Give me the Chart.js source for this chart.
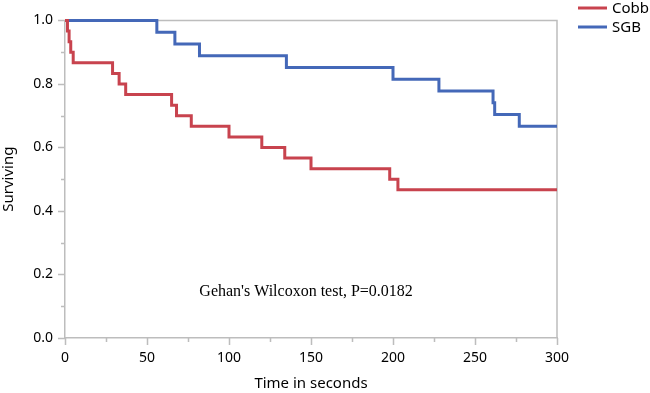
<!DOCTYPE html>
<html>
<head>
<meta charset="utf-8">
<script src="https://cdn.jsdelivr.net/npm/chart.js@4"></script>
<style>
  html, body { margin: 0; padding: 0; background: #ffffff; }
  #wrap { width: 650px; height: 393px; position: relative; }
</style>
</head>
<body>
<div id="wrap"><canvas id="kmChart"></canvas></div>
<script>
// Kaplan-Meier steps
var cobbTimes = [0, 1.5, 2.5, 3.5, 5, 29, 33, 37, 65, 68, 77, 100, 120, 134, 150, 198, 203, 300];
var cobbSurv  = [1, 0.967, 0.933, 0.9, 0.867, 0.833, 0.8, 0.767, 0.733, 0.7, 0.667, 0.633, 0.6, 0.567, 0.533, 0.5, 0.467, 0.467];
var sgbTimes  = [0, 56, 67, 82, 135, 200, 228, 261, 262, 277, 300];
var sgbSurv   = [1, 0.963, 0.926, 0.889, 0.852, 0.815, 0.778, 0.741, 0.704, 0.667, 0.667];
var groupNames  = ["Cobb", "SGB"];
var groupColors = ["#c8434e", "#4468b8"];
var xTicks = [0, 50, 100, 150, 200, 250, 300];
var yTicks = [0, 0.2, 0.4, 0.6, 0.8, 1.0];
var testNote = "Gehan's Wilcoxon test, P=0.0182";

var frameColor = "#bdbdbd";
var sansFont = "'Noto Sans', 'Open Sans', sans-serif";

function toPoints(xs, ys) {
    return xs.map(function (x, i) { return { x: x, y: ys[i] }; });
}

// plot frame under the curves, tick marks, note and legend on top
var decorPlugin = {
    id: "decor",
    beforeDatasetsDraw: function (chart) {
        var ctx = chart.ctx;
        var area = chart.chartArea;
        ctx.save();
        ctx.strokeStyle = frameColor;
        ctx.lineWidth = 1.5;
        ctx.beginPath();
        ctx.moveTo(area.left, area.top);
        ctx.lineTo(area.right, area.top);
        ctx.lineTo(area.right, area.bottom);
        ctx.stroke();
        ctx.restore();
    },
    afterDraw: function (chart) {
        var ctx = chart.ctx;
        var area = chart.chartArea;
        var xs = chart.scales.x, ys = chart.scales.y;
        ctx.save();
        ctx.strokeStyle = frameColor;
        ctx.lineWidth = 1.5;
        ctx.beginPath();
        for (var v = 0; v <= 300; v += 25) {
            var px = Math.round(xs.getPixelForValue(v)) + 0.5;
            var len = (v % 50 === 0) ? 7 : 4;
            ctx.moveTo(px, area.bottom);
            ctx.lineTo(px, area.bottom + len);
        }
        for (var k = 0; k <= 10; k++) {
            var py = Math.round(ys.getPixelForValue(k / 10)) + 0.5;
            var l = (k % 2 === 0) ? 7 : 4;
            ctx.moveTo(area.left, py);
            ctx.lineTo(area.left - l, py);
        }
        ctx.stroke();

        ctx.fillStyle = "#000000";
        ctx.font = "16px 'Liberation Serif', 'Times New Roman', serif";
        ctx.textAlign = "center";
        ctx.textBaseline = "middle";
        ctx.fillText(testNote, xs.getPixelForValue(147), ys.getPixelForValue(0.145));

        ctx.font = "15px " + sansFont;
        ctx.textAlign = "left";
        chart.data.datasets.forEach(function (ds, i) {
            var y = 8 + i * 19;
            ctx.strokeStyle = ds.borderColor;
            ctx.lineWidth = 3;
            ctx.beginPath();
            ctx.moveTo(578, y);
            ctx.lineTo(607, y);
            ctx.stroke();
            ctx.fillStyle = "#000000";
            ctx.fillText(ds.label, 612, y + 0.5);
        });
        ctx.restore();
    }
};

var ctx = document.getElementById("kmChart").getContext("2d");

var kmChart = new Chart(ctx, {
    type: "line",
    data: {
        datasets: [{
            label: groupNames[0],
            data: toPoints(cobbTimes, cobbSurv),
            borderColor: groupColors[0],
            borderWidth: 3,
            stepped: "before",
            pointRadius: 0,
            fill: false,
            clip: false
        }, {
            label: groupNames[1],
            data: toPoints(sgbTimes, sgbSurv),
            borderColor: groupColors[1],
            borderWidth: 3,
            stepped: "before",
            pointRadius: 0,
            fill: false,
            clip: false
        }]
    },
    options: {
        responsive: true,
        maintainAspectRatio: false,
        animation: false,
        layout: { padding: { top: 5, right: 93, left: 0, bottom: 0 } },
        plugins: {
            legend: { display: false },
            tooltip: { enabled: false }
        },
        scales: {
            x: {
                type: "linear",
                min: 0,
                max: 300,
                afterBuildTicks: function (scale) {
                    scale.ticks = xTicks.map(function (v) { return { value: v }; });
                },
                afterFit: function (scale) { scale.height = 55; },
                grid: { display: false, drawTicks: false },
                border: { display: true, color: frameColor, width: 1.5 },
                ticks: {
                    color: "#000000",
                    padding: 12,
                    maxRotation: 0,
                    font: { family: sansFont, size: 14 }
                },
                title: {
                    display: true,
                    text: "Time in seconds",
                    color: "#000000",
                    font: { family: sansFont, size: 15 },
                    padding: 0
                }
            },
            y: {
                type: "linear",
                min: 0,
                max: 1,
                afterBuildTicks: function (scale) {
                    scale.ticks = yTicks.map(function (v) { return { value: v }; });
                },
                afterFit: function (scale) { scale.width = 65; },
                grid: { display: false, drawTicks: false },
                border: { display: true, color: frameColor, width: 1.5 },
                ticks: {
                    color: "#000000",
                    padding: 12,
                    font: { family: sansFont, size: 14 },
                    callback: function (value) { return Number(value).toFixed(1); }
                },
                title: {
                    display: true,
                    text: "Surviving",
                    color: "#000000",
                    font: { family: sansFont, size: 15 },
                    padding: 0
                }
            }
        }
    },
    plugins: [decorPlugin]
});
</script>
</body>
</html>
